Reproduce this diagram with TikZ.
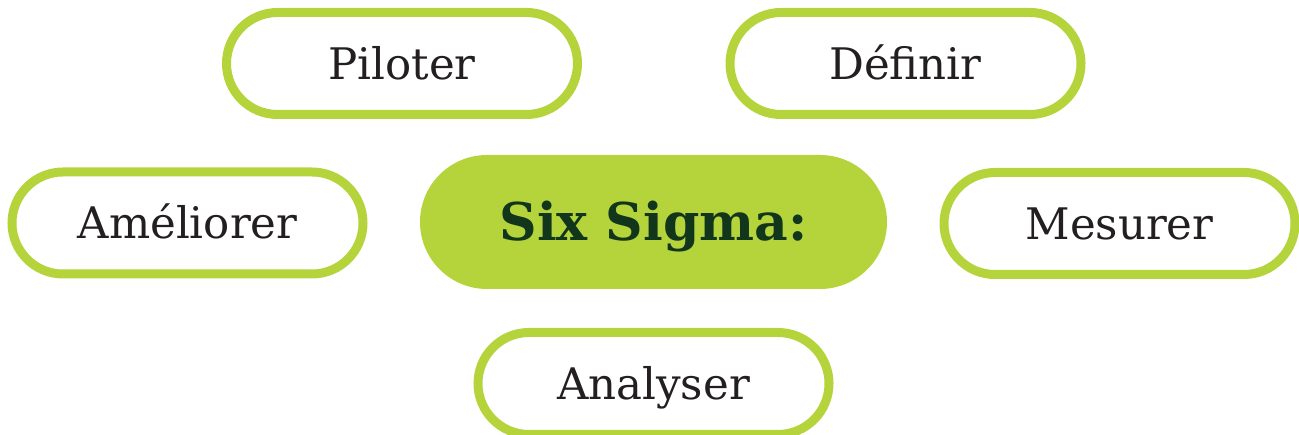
\documentclass[tikz,border=0pt]{standalone}
\usepackage{fontspec}
\setmainfont{DejaVu Serif}
\usepackage{xcolor}
\definecolor{limegreen}{HTML}{B5D43B}
\definecolor{darkgreen}{HTML}{12361C}
\definecolor{inkgray}{HTML}{231F20}

\begin{document}
\begin{tikzpicture}[x=1pt,y=1pt,
        stepbox/.style={rectangle,rounded corners=51pt,draw=limegreen,line width=9pt,fill=white,
            minimum width=351pt,minimum height=102pt,inner sep=0pt,text=inkgray,
            font=\fontsize{43.5}{48}\selectfont,text height=31.5pt,text depth=0pt},
        corebox/.style={rectangle,rounded corners=67pt,fill=limegreen,
            minimum width=467pt,minimum height=134pt,inner sep=0pt,text=darkgreen,
            font=\fontsize{52}{58}\selectfont\bfseries,text height=38pt,text depth=0pt}]
        \useasboundingbox (0,0) rectangle (1299,435);
        \node[corebox] (sixsigma) at (653.5,213) {Six Sigma:};
        \node[stepbox] (piloter) at (402,371.5) {Piloter};
        \node[stepbox] (definir) at (905.5,371.5) {Définir};
        \node[stepbox] (ameliorer) at (187.5,212) {Améliorer};
        \node[stepbox] (mesurer) at (1119.5,211.5) {Mesurer};
        \node[stepbox] (analyser) at (653.5,51.5) {Analyser};
    \end{tikzpicture}
\end{document}
